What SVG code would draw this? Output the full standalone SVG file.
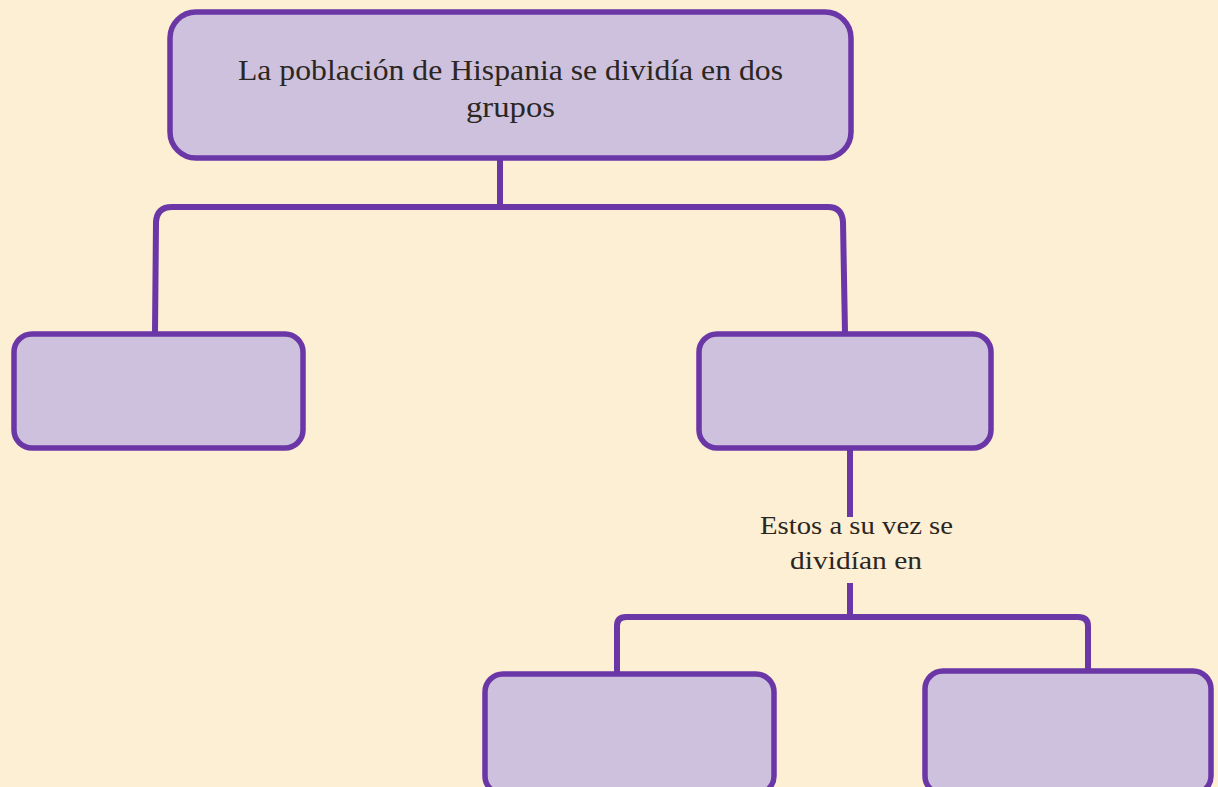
<svg xmlns="http://www.w3.org/2000/svg" width="1218" height="787" viewBox="0 0 1218 787">
<defs>
<style>
.box{fill:#cdc1dd;stroke:#6b36a6;stroke-width:5.5}
.con{fill:none;stroke:#6b36a6;stroke-width:6;stroke-linejoin:round}
.t{font-family:"Liberation Serif","DejaVu Serif",serif;fill:#2b2622;text-anchor:middle}
</style>
</defs>
<rect x="0" y="0" width="1218" height="787" fill="#fcefd4"/>
<g id="connectors">
<path class="con" d="M500 158 V207"/>
<path class="con" d="M155 333 L156 222 Q157 207 172 207 H828 Q842 207 843 222 L845 333"/>
<path class="con" d="M850 448 V517"/>
<path class="con" d="M850 583 V617"/>
<path class="con" d="M617 673 V626 Q617 617 626 617 H1078 Q1088 617 1088 626 V670"/>
</g>
<g id="node-top">
<rect class="box" x="170" y="12" width="681" height="146" rx="26"/>
<text class="t" x="510.5" y="80" font-size="30" textLength="545" lengthAdjust="spacingAndGlyphs">La población de Hispania se dividía en dos</text>
<text class="t" x="510.5" y="117" font-size="30" textLength="89" lengthAdjust="spacingAndGlyphs">grupos</text>
</g>
<g id="node-left">
<rect class="box" x="14" y="334" width="289" height="114" rx="18"/>
</g>
<g id="node-right">
<rect class="box" x="699" y="334" width="292" height="114" rx="18"/>
</g>
<g id="label-estos">
<text class="t" x="856.5" y="534" font-size="25" textLength="193" lengthAdjust="spacingAndGlyphs">Estos a su vez se</text>
<text class="t" x="856" y="569" font-size="25" textLength="132" lengthAdjust="spacingAndGlyphs">dividían en</text>
</g>
<g id="node-bottom-left">
<rect class="box" x="485" y="674" width="289" height="120" rx="18"/>
</g>
<g id="node-bottom-right">
<rect class="box" x="925" y="671" width="286" height="123" rx="18"/>
</g>
</svg>
